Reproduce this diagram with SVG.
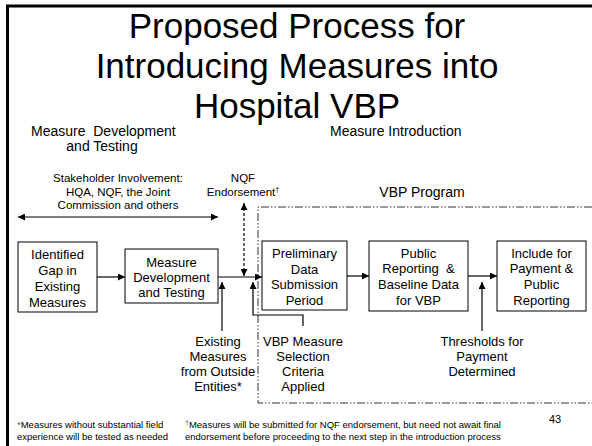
<svg xmlns="http://www.w3.org/2000/svg" width="592" height="446" viewBox="0 0 592 446">
<defs>
<marker id="ah" viewBox="0 0 10 10" refX="10" refY="5" markerWidth="7" markerHeight="7" markerUnits="userSpaceOnUse" orient="auto-start-reverse">
<path d="M0,0 L10,5 L0,10 z" fill="#000"/>
</marker>
<style>
text{font-family:"Liberation Sans",Arial,sans-serif;fill:#000}
.t{font-size:35px;text-anchor:middle}
.h{font-size:14px}
.m{font-size:11.5px;text-anchor:middle}
.b{font-size:13px;text-anchor:middle}
.f{font-size:9.5px}
.box{fill:#fff;stroke:#000;stroke-width:1}
.ln{fill:none;stroke:#000;stroke-width:1.2}
.dd{fill:none;stroke:#333;stroke-width:1;stroke-dasharray:8 2 1.5 2 1.5 2}
.blue{fill:#3366cc}
</style>
</defs>
<rect width="592" height="446" fill="#fff"/>
<path d="M7.5,446 V6 H592" fill="none" stroke="#000" stroke-width="3"/>
<g id="title">
<text class="t" x="297" y="38">Proposed Process for</text>
<text class="t" x="297" y="78">Introducing Measures into</text>
<text class="t" x="297" y="118">Hospital VBP</text>
</g>
<g id="phase-labels">
<text class="h" x="31" y="136">Measure&#160; Development</text>
<text class="h" x="102" y="151" text-anchor="middle">and Testing</text>
<text class="h" x="330" y="136">Measure Introduction</text>
<text class="h" x="422" y="197" text-anchor="middle">VBP Program</text>
</g>
<g id="vbp-program-region">
<path class="dd" d="M592,207 H258 V403 H592"/>
</g>
<g id="connectors">
<line class="ln" x1="18" y1="217" x2="218" y2="217" marker-start="url(#ah)" marker-end="url(#ah)"/>
<line class="ln" x1="244" y1="203" x2="244" y2="276" stroke-dasharray="3 2" marker-start="url(#ah)" marker-end="url(#ah)"/>
<line class="ln" x1="97" y1="277" x2="125" y2="277" marker-end="url(#ah)"/>
<line class="ln" x1="218" y1="277" x2="262" y2="277" marker-end="url(#ah)"/>
<line class="ln" x1="347" y1="276" x2="369" y2="276" marker-end="url(#ah)"/>
<line class="ln" x1="468" y1="276" x2="497" y2="276" marker-end="url(#ah)"/>
<line class="ln" x1="222" y1="331" x2="222" y2="282" marker-end="url(#ah)"/>
<path class="ln" d="M303,326 V315 H253 V282" marker-end="url(#ah)"/>
<line class="ln" x1="482" y1="331" x2="482" y2="282" marker-end="url(#ah)"/>
</g>
<g id="stakeholder">
<text class="m" x="118" y="182">Stakeholder Involvement:</text>
<text class="m" x="118" y="196">HQA, NQF, the Joint</text>
<text class="m" x="118" y="209">Commission and others</text>
</g>
<g id="nqf">
<text class="m" x="243" y="182">NQF</text>
<text class="m" x="243" y="196">Endorsement<tspan font-size="7" dy="-4">†</tspan></text>
</g>
<g id="n-gap">
<rect class="box" x="18" y="242" width="79" height="70"/>
<text class="b" x="57.5" y="259">Identified</text>
<text class="b" x="57.5" y="275">Gap in</text>
<text class="b" x="57.5" y="291">Existing</text>
<text class="b" x="57.5" y="307">Measures</text>
</g>
<g id="n-dev">
<rect class="box" x="125" y="249" width="93" height="54"/>
<text class="b" x="171.5" y="267">Measure</text>
<text class="b" x="171.5" y="282">Development</text>
<text class="b" x="171.5" y="297">and Testing</text>
</g>
<g id="n-prelim">
<rect class="box" x="262" y="241" width="85" height="69"/>
<text class="b" x="304.5" y="258">Preliminary</text>
<text class="b" x="304.5" y="274">Data</text>
<text class="b" x="304.5" y="289">Submission</text>
<text class="b" x="304.5" y="305">Period</text>
</g>
<g id="n-public">
<rect class="box" x="369" y="241" width="99" height="70"/>
<text class="b" x="418.5" y="258">Public</text>
<text class="b" x="418.5" y="273">Reporting&#160; &amp;</text>
<text class="b" x="418.5" y="289">Baseline Data</text>
<text class="b" x="418.5" y="305">for VBP</text>
</g>
<g id="n-include">
<rect class="box" x="497" y="241" width="89" height="70"/>
<text class="b" x="541.5" y="258">Include for</text>
<text class="b" x="541.5" y="273">Payment &amp;</text>
<text class="b" x="541.5" y="289">Public</text>
<text class="b" x="541.5" y="305">Reporting</text>
</g>
<g id="n-existing">
<text class="b" x="218" y="346">Existing</text>
<text class="b" x="218" y="361">Measures</text>
<text class="b" x="218" y="376">from Outside</text>
<text class="b" x="218" y="391">Entities*</text>
</g>
<g id="n-criteria">
<text class="b" x="303" y="346">VBP Measure</text>
<text class="b" x="303" y="361">Selection</text>
<text class="b" x="303" y="376">Criteria</text>
<text class="b" x="303" y="391">Applied</text>
</g>
<g id="n-thresholds">
<text class="b" x="482" y="346">Thresholds for</text>
<text class="b" x="482" y="361">Payment</text>
<text class="b" x="482" y="376">Determined</text>
</g>
<g id="footnotes">
<text class="f" x="17" y="428"><tspan class="blue">*</tspan>Measures without substantial field</text>
<text class="f" x="17" y="440">experience will be tested as needed</text>
<text class="f" x="185" y="428"><tspan class="blue" font-size="7" dy="-3">†</tspan><tspan dy="3">Measures will be submitted for NQF endorsement, but need not await final</tspan></text>
<text class="f" x="185" y="440">endorsement before proceeding to the next step in the introduction process</text>
<text x="549" y="423" font-size="11">43</text>
</g>
</svg>
